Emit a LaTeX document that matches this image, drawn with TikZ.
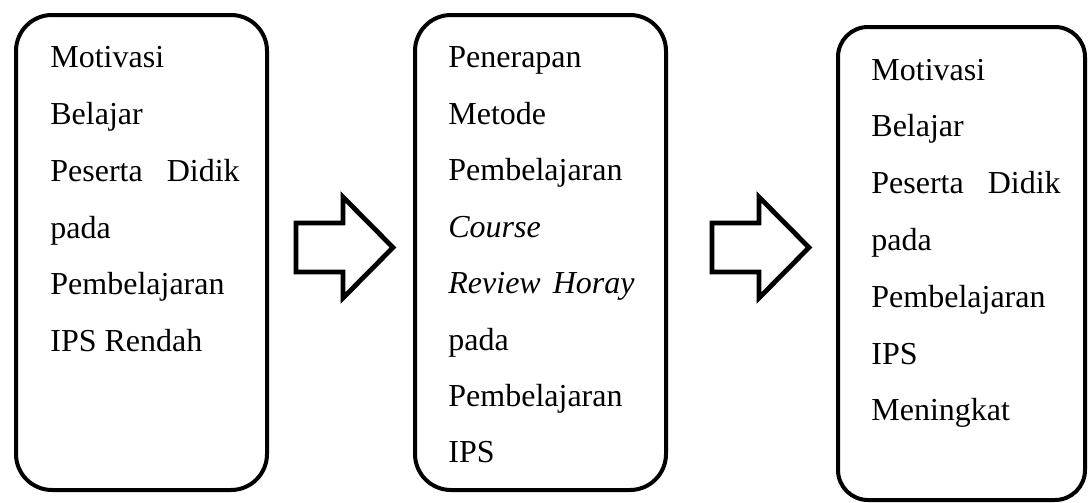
\documentclass[tikz,border=0pt]{standalone}
\usepackage{fontspec}
\setmainfont{Liberation Serif}
\usetikzlibrary{calc}
\tikzset{
  kotak/.style = {draw, line width=2pt, rounded corners=18pt, minimum width=125.5pt, minimum height=237.5pt},
  baris/.style = {anchor=base west, inner sep=0pt, font=\fontsize{16}{19}\selectfont},
  panah/.style = {draw, line width=2.4pt, miter limit=10}
}

\begin{document}
\begin{tikzpicture} [x=.5pt, y=-.5pt]
\useasboundingbox (0,0) rectangle (1088,503);
% kotak
\node[kotak] (awal) at (141.5,252.5) {};
\node[kotak] (tindakan) at (540.5,252.5) {};
\node[kotak, rounded corners=15pt, minimum width=123.5pt, minimum height=236.5pt] (akhir) at (961.5,263.5) {};
% isi
\foreach \t [count=\i] in {Motivasi, Belajar, Peserta\hspace{12pt}Didik, pada, Pembelajaran, IPS Rendah}
 \node[baris] (awal\i) at (50,68+56.7*\i-56.7) {\t};
\foreach \t [count=\i] in {Penerapan, Metode, Pembelajaran, \textit{Course}, \textit{Review\hspace{6pt}Horay}, pada, Pembelajaran, IPS}
 \node[baris] (tindakan\i) at (448,68+56.4*\i-56.4) {\t};
\foreach \t [count=\i] in {Motivasi, Belajar, Peserta\hspace{12pt}Didik, pada, Pembelajaran, IPS, Meningkat}
 \node[baris] (akhir\i) at (871,80+56.8*\i-56.8) {\t};
% panah
\foreach \x in {296,712} {
 \draw[panah] (\x,223) --++(47,0) --++(0,-26) --++(50,50.5) --++(-50,50.5) --++(0,-26) --++(-47,0) -- cycle;
}
\end{tikzpicture}
\end{document}
